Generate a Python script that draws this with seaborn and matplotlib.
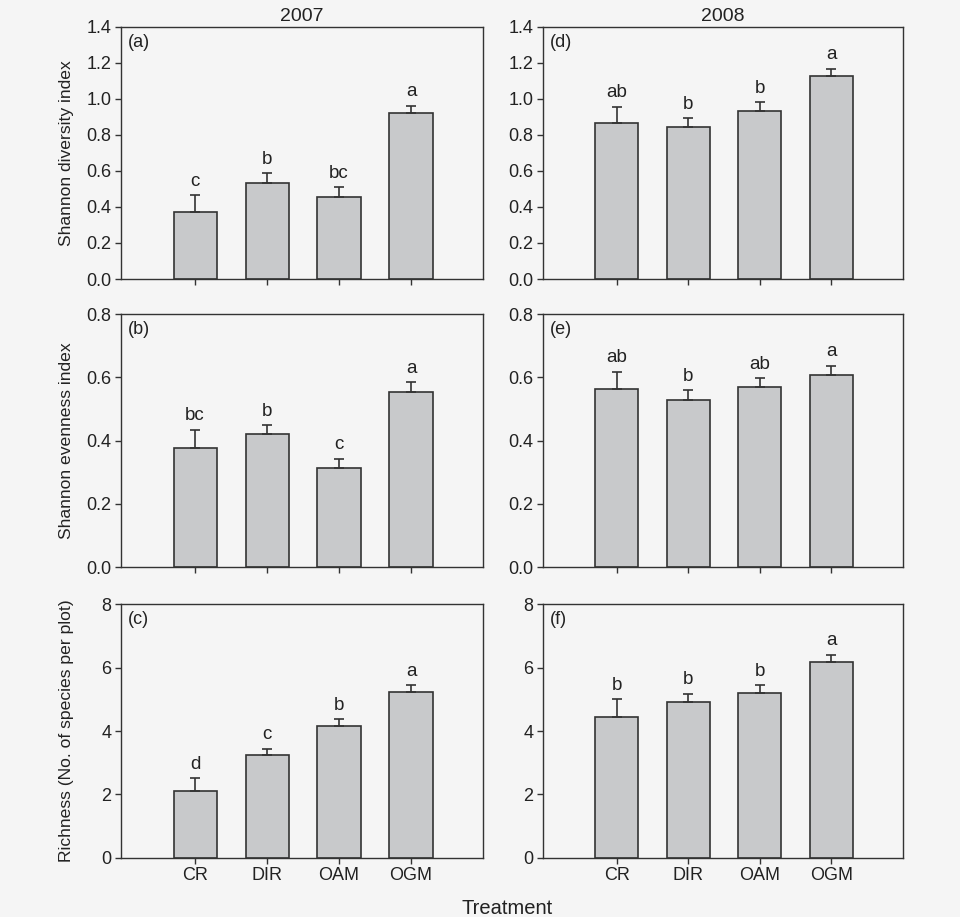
import matplotlib
matplotlib.use("Agg")
import matplotlib.pyplot as plt
import seaborn as sns
import pandas as pd

treatments = ["CR", "DIR", "OAM", "OGM"]
years = ["2007", "2008"]

diversity_2007 = [0.372, 0.533, 0.457, 0.919]
diversity_2007_se = [0.092, 0.053, 0.052, 0.043]
diversity_2008 = [0.865, 0.841, 0.930, 1.125]
diversity_2008_se = [0.092, 0.052, 0.051, 0.041]

evenness_2007 = [0.376, 0.422, 0.313, 0.554]
evenness_2007_se = [0.059, 0.026, 0.030, 0.031]
evenness_2008 = [0.563, 0.528, 0.570, 0.607]
evenness_2008_se = [0.055, 0.031, 0.028, 0.030]

richness_2007 = [2.105, 3.23, 4.16, 5.24]
richness_2007_se = [0.40, 0.20, 0.21, 0.21]
richness_2008 = [4.44, 4.905, 5.21, 6.19]
richness_2008_se = [0.56, 0.265, 0.24, 0.22]

letters_div_2007 = ["c", "b", "bc", "a"]
letters_div_2008 = ["ab", "b", "b", "a"]
letters_even_2007 = ["bc", "b", "c", "a"]
letters_even_2008 = ["ab", "b", "ab", "a"]
letters_rich_2007 = ["d", "c", "b", "a"]
letters_rich_2008 = ["b", "b", "b", "a"]

panel_labels = ["(a)", "(d)", "(b)", "(e)", "(c)", "(f)"]
ylabels = ["Shannon diversity index", "Shannon evenness index",
           "Richness (No. of species per plot)"]
ylims = [(0, 1.4), (0, 0.8), (0, 8)]
yticks = [[0.0, 0.2, 0.4, 0.6, 0.8, 1.0, 1.2, 1.4],
          [0.0, 0.2, 0.4, 0.6, 0.8],
          [0, 2, 4, 6, 8]]
yfmt = ["{:.1f}", "{:.1f}", "{:.0f}"]

panels = [
    [(diversity_2007, diversity_2007_se, letters_div_2007),
     (diversity_2008, diversity_2008_se, letters_div_2008)],
    [(evenness_2007, evenness_2007_se, letters_even_2007),
     (evenness_2008, evenness_2008_se, letters_even_2008)],
    [(richness_2007, richness_2007_se, letters_rich_2007),
     (richness_2008, richness_2008_se, letters_rich_2008)],
]

sns.set_style("ticks")
plt.rcParams["font.family"] = ["Liberation Sans", "DejaVu Sans"]
plt.rcParams["text.color"] = "#222222"
plt.rcParams["axes.labelcolor"] = "#222222"
plt.rcParams["xtick.color"] = "#333333"
plt.rcParams["ytick.color"] = "#333333"

W, H = 960, 917
fig = plt.figure(figsize=(W / 100, H / 100), dpi=100, facecolor="#f5f5f5")

col_lr = [(121, 483), (543, 903)]
row_tb = [(26.7, 279), (314.3, 567), (604.3, 857.7)]

edge = "#333333"
bar_color = "#c8c9cb"

for r in range(3):
    for c in range(2):
        l, rr = col_lr[c]
        t, b = row_tb[r]
        ax = fig.add_axes([l / W, 1 - b / H, (rr - l) / W, (b - t) / H])
        ax.set_facecolor("none")
        vals, se, lets = panels[r][c]
        df = pd.DataFrame({"Treatment": treatments, "value": vals})
        sns.barplot(data=df, x="Treatment", y="value", order=treatments,
                    color=bar_color, edgecolor=edge, linewidth=1.2,
                    width=0.6, errorbar=None, saturation=1, ax=ax)
        xs = list(range(len(treatments)))
        ax.errorbar(xs, vals, yerr=[[0] * len(se), se], fmt="none",
                    ecolor=edge, elinewidth=1.2, capsize=3.6, capthick=1.2,
                    zorder=1)
        for x, v, s, lt in zip(xs, vals, se, lets):
            ax.annotate(lt, (x, v + s), xytext=(0, 4), textcoords="offset points",
                        ha="center", va="bottom", fontsize=13.5, color="#222222")
        ax.set_xlim(-1.03, 4.0)
        ax.set_ylim(*ylims[r])
        ax.set_yticks(yticks[r])
        ax.set_yticklabels([yfmt[r].format(v) for v in yticks[r]])
        for sp in ax.spines.values():
            sp.set_visible(True)
            sp.set_color(edge)
            sp.set_linewidth(1.0)
        ax.tick_params(axis="both", direction="out", length=4, width=1.0,
                       labelsize=13, pad=3, colors=edge, labelcolor="#222222")
        ax.set_xlabel("")
        if r < 2:
            ax.set_xticklabels([])
        if c == 0:
            ax.set_ylabel(ylabels[r], fontsize=12.6)
            ax.yaxis.set_label_coords((74 - l) / (rr - l), 0.5)
        else:
            ax.set_ylabel("")
        if r == 0:
            ax.set_title(years[c], fontsize=14, pad=4)
        ax.text(7 / (rr - l), 1 - 7 / (b - t), panel_labels[r * 2 + c],
                transform=ax.transAxes, ha="left", va="top", fontsize=13)

fig.text(507 / W, 1 - 908 / H, "Treatment", ha="center", va="center",
         fontsize=14.5)

fig.savefig("out.png", dpi=100, facecolor=fig.get_facecolor())
